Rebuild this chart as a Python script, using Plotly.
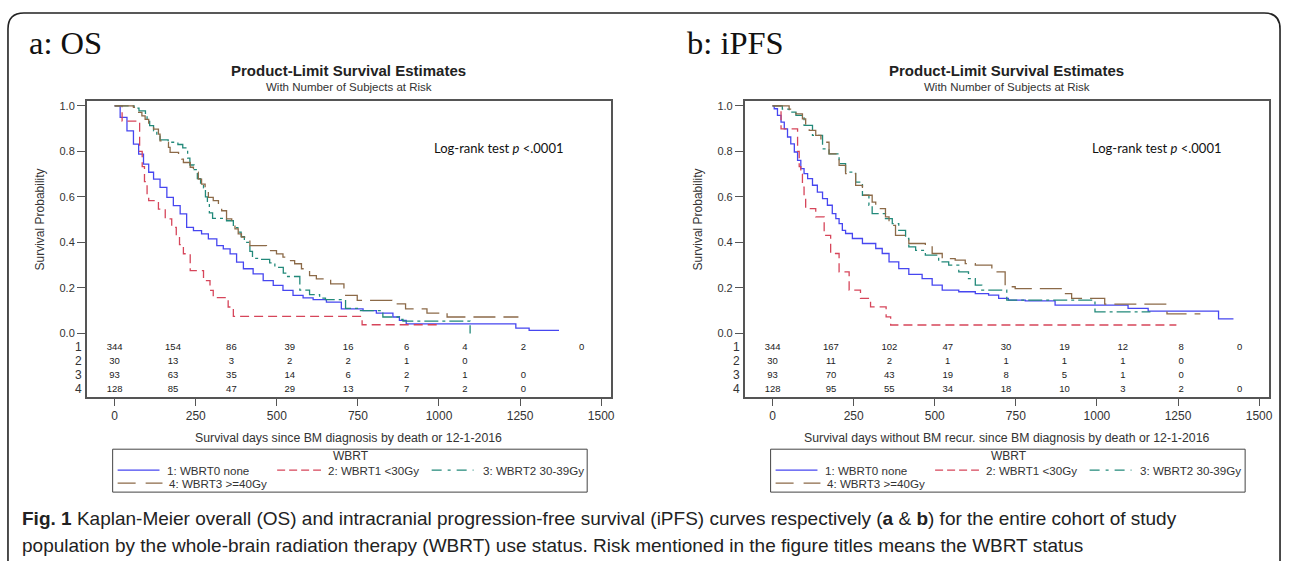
import plotly.graph_objects as go

W, H = 1292, 561

# ---------------- data ----------------
AT_RISK_TIMES = [0, 180, 360, 540, 720, 900, 1080, 1260, 1440]
TICK_DAYS = [0, 250, 500, 750, 1000, 1250, 1500]
PROB_TICKS = [0.0, 0.2, 0.4, 0.6, 0.8, 1.0]
GROUP_NAMES = ["1: WBRT0 none", "2: WBRT1 <30Gy", "3: WBRT2 30-39Gy", "4: WBRT3 >=40Gy"]

# Panel a: overall survival (OS)
OS_NONE_T = [0, 17, 38, 58, 74, 89, 105, 120, 140, 161, 181, 202, 222, 243, 268, 289, 315, 335, 356, 376,
             397, 427, 458, 489, 519, 550, 581, 612, 653, 699, 766, 807, 858, 878, 899, 1237, 1278, 1370]
OS_NONE_S = [1.0, 0.949, 0.89, 0.832, 0.788, 0.744, 0.708, 0.678, 0.642, 0.598, 0.561, 0.525, 0.466, 0.452,
             0.437, 0.415, 0.386, 0.371, 0.349, 0.313, 0.284, 0.262, 0.232, 0.211, 0.189, 0.167, 0.156, 0.148,
             0.137, 0.108, 0.10, 0.089, 0.072, 0.057, 0.042, 0.023, 0.013, 0.013]
OS_LT30_T = [0, 23, 77, 85, 92, 100, 105, 135, 156, 176, 190, 200, 212, 233, 274, 294, 304, 350, 366, 763, 1000]
OS_LT30_S = [1.0, 0.933, 0.80, 0.733, 0.667, 0.60, 0.583, 0.546, 0.503, 0.466, 0.43, 0.39, 0.35, 0.276, 0.232,
             0.189, 0.157, 0.116, 0.075, 0.038, 0.038]
OS_30_39_T = [0, 60, 75, 95, 100, 108, 120, 130, 140, 165, 195, 210, 225, 232, 245, 255, 265, 274, 280, 286, 292,
              302, 345, 366, 380, 390, 400, 417, 425, 450, 478, 494, 520, 530, 571, 601, 632, 650, 712, 758, 827,
              878, 889, 1096]
OS_30_39_S = [1.0, 0.99, 0.978, 0.967, 0.935, 0.913, 0.89, 0.87, 0.85, 0.84, 0.83, 0.815, 0.77, 0.74, 0.72, 0.68,
              0.66, 0.64, 0.60, 0.57, 0.53, 0.505, 0.495, 0.465, 0.445, 0.425, 0.40, 0.36, 0.33, 0.325, 0.31, 0.29,
              0.265, 0.25, 0.19, 0.17, 0.155, 0.148, 0.11, 0.10, 0.072, 0.062, 0.054, 0.0]
OS_GE40_T = [0, 58, 69, 74, 84, 94, 105, 110, 120, 135, 140, 156, 166, 171, 197, 207, 212, 233, 243, 248, 258, 268,
             279, 289, 304, 320, 330, 345, 361, 371, 381, 391, 417, 468, 478, 499, 519, 540, 555, 576, 601, 622,
             666, 707, 748, 855, 897, 963, 1025, 1245]
OS_GE40_S = [1.0, 0.993, 0.985, 0.971, 0.956, 0.94, 0.92, 0.908, 0.898, 0.876, 0.846, 0.839, 0.817, 0.795, 0.781,
             0.766, 0.751, 0.73, 0.722, 0.708, 0.678, 0.656, 0.627, 0.598, 0.583, 0.561, 0.539, 0.503, 0.481,
             0.459, 0.437, 0.423, 0.386, 0.379, 0.364, 0.349, 0.335, 0.32, 0.306, 0.284, 0.254, 0.24, 0.218,
             0.167, 0.145, 0.13, 0.108, 0.089, 0.072, 0.072]

# Panel b: intracranial progression-free survival (iPFS)
PFS_NONE_T = [0, 5, 15, 26, 36, 46, 56, 67, 77, 87, 97, 108, 123, 138, 154, 169, 184, 195, 205, 215, 225, 246,
              277, 318, 338, 359, 389, 420, 461, 492, 523, 574, 625, 666, 697, 727, 779, 871, 1096, 1158, 1375, 1421]
PFS_NONE_S = [1.0, 0.987, 0.958, 0.928, 0.899, 0.863, 0.833, 0.797, 0.760, 0.724, 0.702, 0.680, 0.651, 0.621,
              0.592, 0.563, 0.526, 0.504, 0.482, 0.453, 0.439, 0.417, 0.395, 0.373, 0.351, 0.314, 0.285, 0.259,
              0.241, 0.212, 0.19, 0.183, 0.175, 0.168, 0.154, 0.146, 0.143, 0.124, 0.11, 0.098, 0.064, 0.064]
PFS_LT30_T = [0, 26, 77, 82, 87, 92, 97, 102, 133, 159, 179, 205, 236, 271, 302, 350, 364, 1245]
PFS_LT30_S = [1.0, 0.899, 0.80, 0.733, 0.70, 0.643, 0.60, 0.548, 0.512, 0.431, 0.351, 0.27, 0.19, 0.154, 0.117,
              0.073, 0.037, 0.037]
PFS_30_39_T = [0, 30, 51, 72, 97, 123, 154, 174, 205, 225, 256, 277, 297, 307, 348, 369, 389, 410, 420, 441, 471,
               512, 543, 574, 604, 625, 645, 722, 994, 1165]
PFS_30_39_S = [1.0, 0.985, 0.972, 0.958, 0.914, 0.87, 0.811, 0.789, 0.746, 0.709, 0.665, 0.607, 0.563, 0.526,
               0.504, 0.482, 0.453, 0.417, 0.38, 0.365, 0.344, 0.314, 0.30, 0.27, 0.241, 0.212, 0.19, 0.146, 0.095,
               0.095]
PFS_GE40_T = [0, 51, 72, 92, 102, 113, 133, 149, 174, 205, 225, 256, 277, 307, 318, 348, 359, 379, 410, 420, 471,
              492, 523, 563, 594, 625, 676, 717, 748, 896, 922, 1024, 1216, 1319]
PFS_GE40_S = [1.0, 0.985, 0.965, 0.943, 0.914, 0.892, 0.87, 0.84, 0.789, 0.738, 0.702, 0.65, 0.607, 0.577, 0.548,
              0.512, 0.475, 0.431, 0.417, 0.395, 0.38, 0.351, 0.329, 0.322, 0.307, 0.30, 0.27, 0.205, 0.197, 0.175,
              0.154, 0.129, 0.086, 0.086]

# numbers at risk
OS_RISK_1 = [344, 154, 86, 39, 16, 6, 4, 2, 0]
OS_RISK_2 = [30, 13, 3, 2, 2, 1, 0]
OS_RISK_3 = [93, 63, 35, 14, 6, 2, 1, 0]
OS_RISK_4 = [128, 85, 47, 29, 13, 7, 2, 0]
PFS_RISK_1 = [344, 167, 102, 47, 30, 19, 12, 8, 0]
PFS_RISK_2 = [30, 11, 2, 1, 1, 1, 1, 0]
PFS_RISK_3 = [93, 70, 43, 19, 8, 5, 1, 0]
PFS_RISK_4 = [128, 95, 55, 34, 18, 10, 3, 2, 0]

# ---------------- styles ----------------
COLORS = ["#4646f0", "#d6455a", "#22897a", "#8c6a48"]
DASHES = ["solid", "9px,5px", "14px,4px,3px,4px", "22px,8px"]
LEG_DASHES = ["solid", "8px,4px", "10px,6px,3px,6px", "18px,10px"]
FONT = "Liberation Sans, Arial, sans-serif"
AX_COLOR = "#555555"
TXT = "#333333"

# pixel geometry (panel a; panel b shifted by 660 px)
BOX_L, BOX_R, BOX_T, BOX_B = 87, 613, 100, 397
Y0_PX, Y1_PX = 333, 105          # pixel rows of survival 0 and 1
X0_PX, X1500_PX = 115, 603       # pixel cols of day 0 and day 1500
PPD = (X1500_PX - X0_PX) / 1500.0
PPU = (Y0_PX - Y1_PX)
ROW_PX = [347, 361, 375, 389]
SHIFT = 660


def fx(p):
    return p / W


def fy(p):
    return 1 - p / H


x_range = [-(X0_PX - BOX_L) / PPD, (BOX_R - X0_PX) / PPD]
y_range = [-(BOX_B - Y0_PX) / PPU, 1 + (Y1_PX - BOX_T) / PPU]
row_y = [-(p - Y0_PX) / PPU for p in ROW_PX]

fig = go.Figure()

panels = [
    dict(xa="x", ya="y", shift=0, label="a: OS",
         curves=[(OS_NONE_T, OS_NONE_S), (OS_LT30_T, OS_LT30_S), (OS_30_39_T, OS_30_39_S), (OS_GE40_T, OS_GE40_S)],
         risk=[OS_RISK_1, OS_RISK_2, OS_RISK_3, OS_RISK_4],
         xtitle="Survival days since BM diagnosis by death or 12-1-2016"),
    dict(xa="x2", ya="y2", shift=SHIFT, label="b: iPFS",
         curves=[(PFS_NONE_T, PFS_NONE_S), (PFS_LT30_T, PFS_LT30_S), (PFS_30_39_T, PFS_30_39_S),
                 (PFS_GE40_T, PFS_GE40_S)],
         risk=[PFS_RISK_1, PFS_RISK_2, PFS_RISK_3, PFS_RISK_4],
         xtitle="Survival days without BM recur. since BM diagnosis by death or 12-1-2016"),
]

annotations = []
shapes = []

for i, p in enumerate(panels):
    s = p["shift"]
    for g, (t, sv) in enumerate(p["curves"]):
        fig.add_trace(go.Scatter(x=t, y=sv, mode="lines", line=dict(color=COLORS[g], width=1.3, dash=DASHES[g],
                                                                      shape="hv"),
                                 name=GROUP_NAMES[g], showlegend=False, xaxis=p["xa"], yaxis=p["ya"]))
    for r, vals in enumerate(p["risk"]):
        fig.add_trace(go.Scatter(x=AT_RISK_TIMES[:len(vals)], y=[row_y[r]] * len(vals), mode="text",
                                 text=[str(v) for v in vals], textfont=dict(family=FONT, size=9.5, color="#222"),
                                 showlegend=False, hoverinfo="skip", xaxis=p["xa"], yaxis=p["ya"]))
        annotations.append(dict(text=str(r + 1), xref=p["xa"] + " domain", yref=p["ya"], x=-0.006, y=row_y[r],
                                xanchor="right", yanchor="middle", showarrow=False,
                                font=dict(family=FONT, size=12, color=TXT)))

    xkey = "xaxis" if i == 0 else "xaxis2"
    ykey = "yaxis" if i == 0 else "yaxis2"
    fig.update_layout(**{
        xkey: dict(domain=[fx(BOX_L + s), fx(BOX_R + s)], range=x_range, tickvals=TICK_DAYS,
                   ticks="outside", ticklen=7, tickcolor=AX_COLOR, showline=True, linecolor=AX_COLOR, linewidth=1.5,
                   mirror=True, showgrid=False, zeroline=False, anchor=p["ya"],
                   tickfont=dict(family=FONT, size=12, color=TXT), fixedrange=True),
        ykey: dict(domain=[fy(BOX_B), fy(BOX_T)], range=y_range, tickvals=PROB_TICKS,
                   ticktext=["%.1f" % v for v in PROB_TICKS], ticks="outside", ticklen=8, tickcolor=AX_COLOR,
                   showline=True, linecolor=AX_COLOR, linewidth=1.5, mirror=True, showgrid=False, zeroline=False,
                   anchor=p["xa"], tickfont=dict(family=FONT, size=11, color=TXT), fixedrange=True),
    })

    cx = (BOX_L + BOX_R) / 2 + s
    annotations += [
        dict(text=p["label"], xref="paper", yref="paper", x=fx(27 + s), y=fy(42), xanchor="left", yanchor="middle",
             showarrow=False, font=dict(family="Liberation Serif, Times New Roman, serif", size=32.5, color="#111")),
        dict(text="<b>Product-Limit Survival Estimates</b>", xref="paper", yref="paper", x=fx(cx), y=fy(70),
             xanchor="center", yanchor="middle", showarrow=False, font=dict(family=FONT, size=15, color="#222")),
        dict(text="With Number of Subjects at Risk", xref="paper", yref="paper", x=fx(cx), y=fy(86),
             xanchor="center", yanchor="middle", showarrow=False, font=dict(family=FONT, size=11.5, color=TXT)),
        dict(text="Survival Probability", xref="paper", yref="paper", x=fx(40 + s), y=fy((Y0_PX + Y1_PX) / 2),
             xanchor="center", yanchor="middle", textangle=-90, showarrow=False,
             font=dict(family=FONT, size=12, color=TXT)),
        dict(text=p["xtitle"], xref="paper", yref="paper", x=fx(cx), y=fy(438), xanchor="center",
             yanchor="middle", showarrow=False, font=dict(family=FONT, size=12.3, color=TXT)),
        dict(text="Log-rank test <i>p</i> &lt;.0001", xref="paper", yref="paper", x=fx(433 + s), y=fy(147),
             xanchor="left", yanchor="middle", showarrow=False,
             font=dict(family="Lato, Open Sans, sans-serif", size=13, color="#111")),
    ]

    # legend box (drawn manually, SAS style)
    shapes.append(dict(type="rect", xref="paper", yref="paper", x0=fx(113 + s), x1=fx(589 + s), y0=fy(492),
                       y1=fy(449), line=dict(color="#444", width=1), fillcolor="rgba(0,0,0,0)"))
    annotations.append(dict(text="WBRT", xref="paper", yref="paper", x=fx(352 + s), y=fy(456), xanchor="center",
                            yanchor="middle", showarrow=False, font=dict(family=FONT, size=12, color=TXT)))
    leg_items = [(118, 160, 166, 470), (278, 322, 327, 470), (433, 475, 482, 470), (118, 163, 168, 483)]
    for g, (l0, l1, tx, ly) in enumerate(leg_items):
        shapes.append(dict(type="line", xref="paper", yref="paper", x0=fx(l0 + s), x1=fx(l1 + s), y0=fy(ly),
                           y1=fy(ly), line=dict(color=COLORS[g], width=1.3, dash=LEG_DASHES[g])))
        annotations.append(dict(text=GROUP_NAMES[g].replace("<", "&lt;"), xref="paper", yref="paper",
                                x=fx(tx + s), y=fy(ly), xanchor="left", yanchor="middle", showarrow=False,
                                font=dict(family=FONT, size=11.6, color=TXT)))

# outer rounded frame
L, R, T, rr = 8, 1284, 12, 16
path = (f"M {fx(L)},{fy(H + 10)} L {fx(L)},{fy(T + rr)} Q {fx(L)},{fy(T)} {fx(L + rr)},{fy(T)} "
        f"L {fx(R - rr)},{fy(T)} Q {fx(R)},{fy(T)} {fx(R)},{fy(T + rr)} L {fx(R)},{fy(H + 10)}")
shapes.append(dict(type="path", xref="paper", yref="paper", path=path, line=dict(color="#222", width=1.6)))

# caption
CAP_FONT = "Liberation Sans Narrow, Arial Narrow, sans-serif"
annotations += [
    dict(text="<b>Fig. 1</b> Kaplan-Meier overall (OS) and intracranial progression-free survival (iPFS) curves "
              "respectively (<b>a</b> &amp; <b>b</b>) for the entire cohort of study",
         xref="paper", yref="paper", x=fx(20), y=fy(518), xanchor="left", yanchor="middle", showarrow=False,
         font=dict(family=CAP_FONT, size=19, color="#222")),
    dict(text="population by the whole-brain radiation therapy (WBRT) use status. Risk mentioned in the figure "
              "titles means the WBRT status",
         xref="paper", yref="paper", x=fx(20), y=fy(545), xanchor="left", yanchor="middle", showarrow=False,
         font=dict(family=CAP_FONT, size=19, color="#222")),
]

fig.update_layout(width=W, height=H, margin=dict(l=0, r=0, t=0, b=0), paper_bgcolor="white",
                  plot_bgcolor="white", showlegend=False, annotations=annotations, shapes=shapes)

fig.write_html("out.html", config={"displayModeBar": False},
               post_script="document.body.style.margin='0px';document.body.style.overflow='hidden';")
